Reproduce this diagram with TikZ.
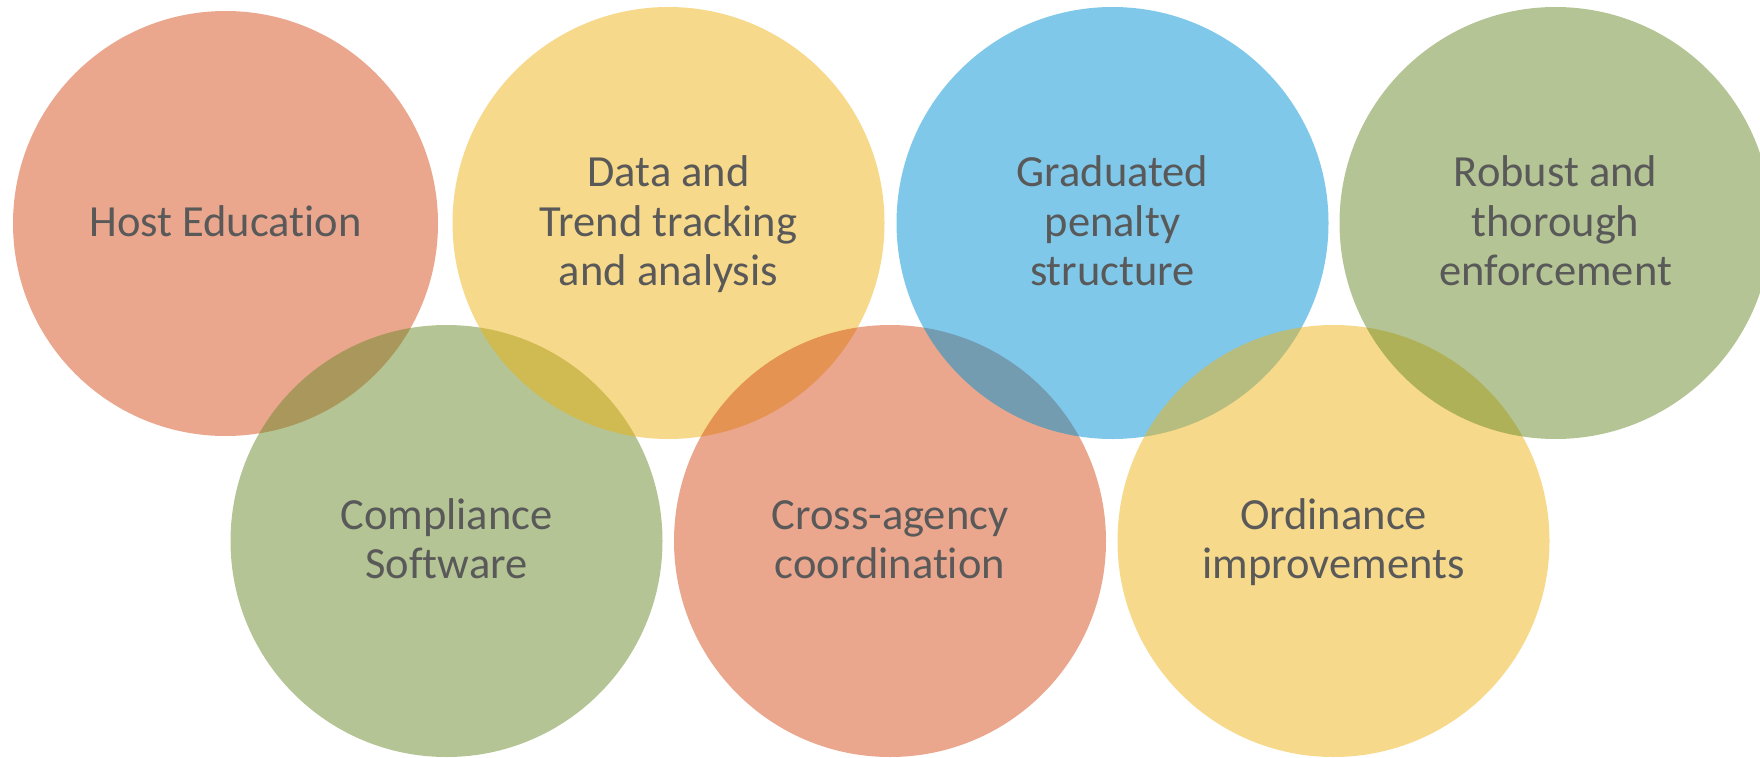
\documentclass[tikz,border=0pt]{standalone}
\usepackage{fontspec}
\setmainfont{Carlito}[RawFeature={-liga;-clig;-calt;-dlig}]
\usetikzlibrary{positioning}

% base hues of the seven discs (laid down at half opacity)
\definecolor{discSalmon}{RGB}{213,79,29}
\definecolor{discYellow}{RGB}{237,179,21}
\definecolor{discBlue}{RGB}{0,145,211}
\definecolor{discGreen}{RGB}{105,137,41}
\definecolor{labelGray}{RGB}{89,89,89}

% strut that fixes every text line to the same height and depth
\newcommand\lnstrut{\rule[-10pt]{0pt}{46pt}}

\tikzset{
  disc/.style={circle, inner sep=0pt, minimum size=432pt,
    fill=#1, fill opacity=0.5, text opacity=1, draw=none,
    text=labelGray, align=center,
    font=\fontsize{44.5pt}{49.5pt}\selectfont},
}

\begin{document}
\begin{tikzpicture}[x=1pt,y=1pt]
  \useasboundingbox (0,0) rectangle (1760,-757);
  \clip (0,0) rectangle (1760,-757);

  % discs drawn in zig-zag order: top, bottom, top, ...
  \node[disc=discSalmon, minimum size=425pt] (host) at (225.5,-223.5)
    {\lnstrut Host Education};
  \node[disc=discGreen] (compliance) at (446.5,-541)
    {\lnstrut Compliance\\\lnstrut Software};
  \node[disc=discYellow] (data) at (668.5,-223)
    {\lnstrut Data and\\\lnstrut Trend tracking\\\lnstrut and analysis};
  \node[disc=discSalmon] (agency) at (890,-541)
    {\lnstrut Cross-agency\\\lnstrut coordination};
  \node[disc=discBlue] (penalty) at (1112.5,-223)
    {\lnstrut Graduated\\\lnstrut penalty\\\lnstrut structure};
  \node[disc=discYellow] (ordinance) at (1333.5,-541)
    {\lnstrut Ordinance\\\lnstrut improvements};
  \node[disc=discGreen] (enforce) at (1555.5,-223)
    {\lnstrut Robust and\\\lnstrut thorough\\\lnstrut enforcement};
\end{tikzpicture}
\end{document}
